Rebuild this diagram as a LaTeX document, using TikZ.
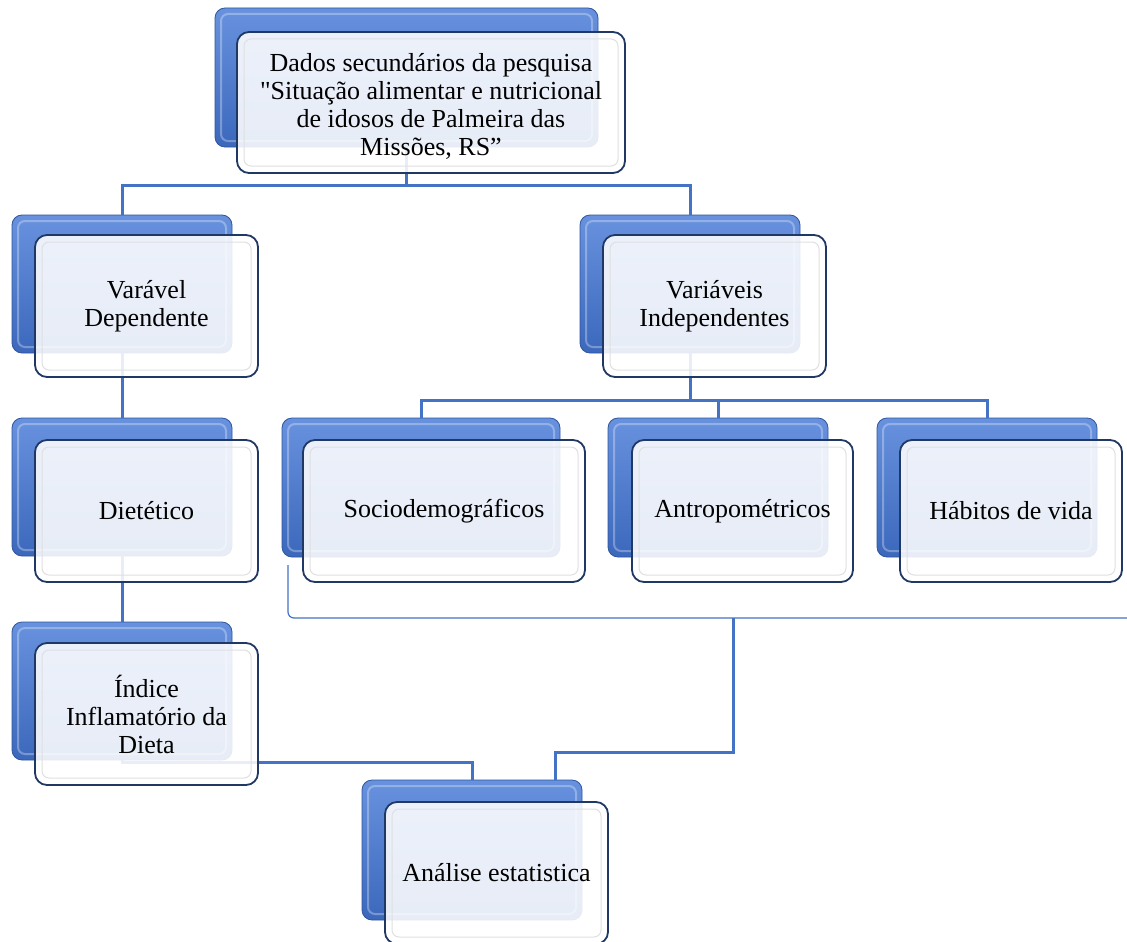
\documentclass[tikz,border=0pt]{standalone}
\usepackage{fontspec}
\setmainfont{Liberation Serif}[Ligatures=TeXOff]
\usetikzlibrary{calc}
\definecolor{conn}{HTML}{4472C4}
\definecolor{backtop}{HTML}{6892DE}
\definecolor{backbot}{HTML}{3C68BC}
\definecolor{backedge}{HTML}{2F559C}
\definecolor{frontedge}{HTML}{203864}
\newcommand\bevelin[3]{\draw[#3, rounded corners=7pt] ([shift={(#2,#2)}]#1.north west) rectangle ([shift={(-#2,-#2)}]#1.south east);}
\begin{document}
\begin{tikzpicture}[x=1pt,y=-1pt,
  back/.style={rectangle, rounded corners=10pt, inner sep=0pt, outer sep=0pt, draw=backedge, line width=0.8pt, top color=backtop, bottom color=backbot, anchor=north west},
  front/.style={rectangle, rounded corners=12pt, inner sep=2pt, outer sep=0pt, draw=frontedge, line width=1.8pt, fill=white, fill opacity=0.88, text opacity=1, anchor=north west, align=center, font=\fontsize{26}{28}\selectfont},
  link/.style={draw=conn, line width=3pt},
  thinlink/.style={draw=conn, line width=1.2pt, rounded corners=6pt},
  backbevel/.style={draw=white, line width=2pt, opacity=0.3},
  frontbevel/.style={draw=black!12, line width=1pt}]
\useasboundingbox (0,0) rectangle (1127,942);
% back boxes
\node[back, minimum width=383pt, minimum height=139pt] (topB) at (215,8) {};
\node[back, minimum width=220pt, minimum height=138pt] (depB) at (12,215) {};
\node[back, minimum width=220pt, minimum height=138pt] (indepB) at (580,215) {};
\node[back, minimum width=220pt, minimum height=138pt] (dietB) at (12,418) {};
\node[back, minimum width=278pt, minimum height=139pt] (socB) at (282,418) {};
\node[back, minimum width=220pt, minimum height=139pt] (antB) at (608,418) {};
\node[back, minimum width=220pt, minimum height=139pt] (habB) at (877,418) {};
\node[back, minimum width=220pt, minimum height=138pt] (idxB) at (12,622) {};
\node[back, minimum width=220pt, minimum height=140pt] (anaB) at (362,780) {};
\foreach \n in {topB,depB,indepB,dietB,socB,antB,habB,idxB,anaB}{\bevelin{\n}{6}{backbevel}}
% connectors
\draw[link] (topB.south) -- (topB.south |- 0,185) -| (depB.north);
\draw[link] (topB.south |- 0,185) -| (indepB.north);
\draw[link] (depB.south) -- (dietB.north);
\draw[link] (dietB.south) -- (idxB.north);
\draw[link] (indepB.south) -- (indepB.south |- 0,400) -| (socB.north);
\draw[link] (indepB.south |- 0,400) -| (antB.north);
\draw[link] (indepB.south |- 0,400) -| (habB.north);
\coordinate (brS) at (288,565);
\coordinate (brE) at (1127,618);
\coordinate (brM) at (733,618);
\draw[thinlink] (brS) |- (brE);
\draw[link] (brM) -- (brM |- 0,752) -| ([xshift=83pt]anaB.north);
\draw[link] (idxB.south) -- (idxB.south |- 0,762) -| (anaB.north);
% front boxes
\node[front, minimum width=388pt, minimum height=141pt] (topF) at (237,32) {\rule{0pt}{26pt}Dados secundários da pesquisa\\"Situação alimentar e nutricional\\de idosos de Palmeira das\\Missões, RS”};
\node[front, minimum width=223pt, minimum height=142pt] (depF) at (35,235) {Varável\\Dependente};
\node[front, minimum width=223pt, minimum height=142pt] (indepF) at (603,235) {Variáveis\\Independentes};
\node[front, minimum width=223pt, minimum height=142pt] (dietF) at (35,440) {Dietético};
\node[front, minimum width=282pt, minimum height=142pt] (socF) at (303,440) {Sociodemográficos};
\node[front, minimum width=221pt, minimum height=142pt] (antF) at (632,440) {Antropométricos};
\node[front, minimum width=222pt, minimum height=142pt] (habF) at (900,440) {Hábitos de vida};
\node[front, minimum width=223pt, minimum height=142pt] (idxF) at (35,643) {Índice\\Inflamatório da\\Dieta};
\node[front, minimum width=223pt, minimum height=142pt] (anaF) at (385,802) {Análise estatistica};
\foreach \n in {topF,depF,indepF,dietF,socF,antF,habF,idxF,anaF}{\bevelin{\n}{7}{frontbevel}}
\end{tikzpicture}
\end{document}
